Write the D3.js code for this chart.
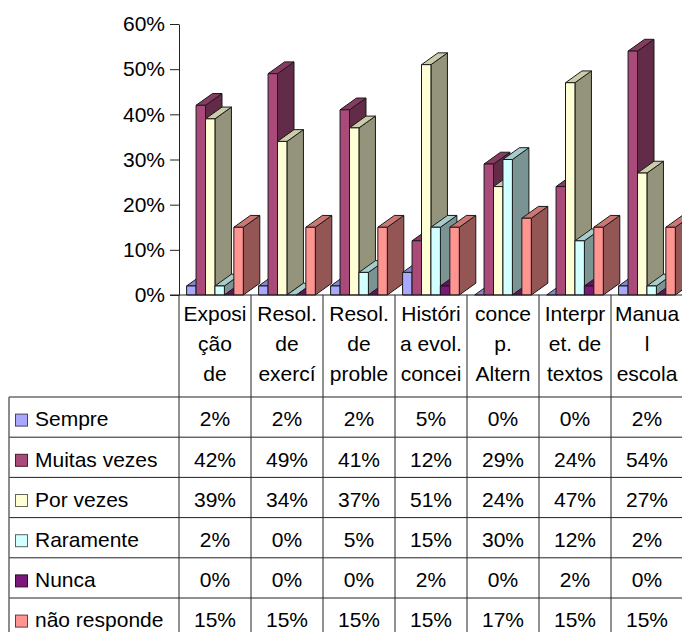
<!DOCTYPE html>
<html>
<head>
<meta charset="utf-8">
<script src="https://cdn.jsdelivr.net/npm/d3@7"></script>
<style>
  html, body { margin: 0; padding: 0; background: #fff; }
  svg { display: block; }
  text { font-family: "Liberation Sans", Arial, sans-serif; fill: #000; }
</style>
</head>
<body>
<svg id="chart" width="682" height="632"></svg>
<script>
// Category labels (as wrapped in the header cells of the data table)
const categoryLines = [
  ["Exposi", "ção", "de"],
  ["Resol.", "de", "exercí"],
  ["Resol.", "de", "proble"],
  ["Históri", "a evol.", "concei"],
  ["conce", "p.", "Altern"],
  ["Interpr", "et. de", "textos"],
  ["Manua", "l", "escola"]
];
const seriesNames = ["Sempre", "Muitas vezes", "Por vezes", "Raramente", "Nunca", "não responde"];

// Percentages per series, one value per category
const sempre      = [2, 2, 2, 5, 0, 0, 2];
const muitasVezes = [42, 49, 41, 12, 29, 24, 54];
const porVezes    = [39, 34, 37, 51, 24, 47, 27];
const raramente   = [2, 0, 5, 15, 30, 12, 2];
const nunca       = [0, 0, 0, 2, 0, 2, 0];
const naoResponde = [15, 15, 15, 15, 17, 15, 15];

const yTicks = [0, 10, 20, 30, 40, 50, 60];

const seriesValues = [sempre, muitasVezes, porVezes, raramente, nunca, naoResponde];
const seriesColors = ["#a8a8ff", "#a94a7b", "#ffffd5", "#d2ffff", "#7b197b", "#ff9590"];

const svg = d3.select("#chart");
const FONT = 21;

// Layout
const plotLeft = 179, plotRight = 683;
const y0 = 295, yTop = 24;
const depthX = 16.5, depthY = -11.8;

const x = d3.scaleBand().domain(d3.range(categoryLines.length)).range([plotLeft, plotRight]);
const xInner = d3.scaleBand().domain(seriesNames).range([7.6, 64.3]);
const y = d3.scaleLinear().domain([0, 60]).range([y0, yTop]);

function shade(c, k) {
  const r = d3.rgb(c);
  return d3.rgb(r.r * k, r.g * k, r.b * k).formatHex();
}

// Y axis
const yAxis = d3.axisLeft(y)
  .tickValues(yTicks)
  .tickSize(9)
  .tickSizeOuter(0)
  .tickPadding(5)
  .tickFormat(d => d + "%");
const gy = svg.append("g").attr("transform", `translate(${plotLeft},0)`).call(yAxis);
gy.select(".domain").attr("stroke", "#222");
gy.selectAll(".tick line").attr("stroke", "#222");
gy.selectAll(".tick text")
  .attr("font-size", FONT)
  .attr("font-family", "Liberation Sans, Arial, sans-serif")
  .attr("fill", "#000");

// 3D bars
const bars = svg.append("g").attr("stroke", "#1a1a1a").attr("stroke-width", 1).attr("stroke-linejoin", "round");
categoryLines.forEach((_, ci) => {
  seriesNames.forEach((name, si) => {
    const v = seriesValues[si][ci];
    const c = seriesColors[si];
    const xl = x(ci) + xInner(name);
    const xr = xl + xInner.bandwidth();
    const yt = y(v);
    const g = bars.append("g");
    // right side face
    g.append("path")
      .attr("d", `M${xr},${y0} L${xr + depthX},${y0 + depthY} L${xr + depthX},${yt + depthY} L${xr},${yt} Z`)
      .attr("fill", shade(c, 0.58));
    // top face
    g.append("path")
      .attr("d", `M${xl},${yt} L${xl + depthX},${yt + depthY} L${xr + depthX},${yt + depthY} L${xr},${yt} Z`)
      .attr("fill", shade(c, 0.8));
    // front face
    if (v > 0) {
      g.append("rect")
        .attr("x", xl).attr("y", yt)
        .attr("width", xr - xl).attr("height", y0 - yt)
        .attr("fill", c);
    }
  });
});

// Category axis line
svg.append("line")
  .attr("x1", plotLeft - 9).attr("x2", plotRight)
  .attr("y1", y0).attr("y2", y0)
  .attr("stroke", "#222");

// Data table
const headerBottom = 397;
const rowH = 40.2;
const tableLeft = 9;
const tableBottom = headerBottom + rowH * seriesNames.length;
const table = svg.append("g");
const lineColor = "#222";

// header labels
categoryLines.forEach((lines, ci) => {
  const cx = x(ci) + x.bandwidth() / 2;
  lines.forEach((t, li) => {
    table.append("text")
      .attr("x", cx).attr("y", 314 + li * 30)
      .attr("dy", "0.35em")
      .attr("text-anchor", "middle")
      .attr("font-size", FONT)
      .text(t);
  });
});

// horizontal rules
d3.range(seriesNames.length + 1).forEach(i => {
  table.append("line")
    .attr("x1", tableLeft).attr("x2", plotRight)
    .attr("y1", headerBottom + i * rowH).attr("y2", headerBottom + i * rowH)
    .attr("stroke", lineColor);
});
// vertical rules
table.append("line")
  .attr("x1", tableLeft).attr("x2", tableLeft)
  .attr("y1", headerBottom).attr("y2", tableBottom)
  .attr("stroke", "#666").attr("stroke-width", 1.5);
d3.range(categoryLines.length + 1).forEach(i => {
  const xx = plotLeft + i * x.bandwidth();
  table.append("line")
    .attr("x1", xx).attr("x2", xx)
    .attr("y1", y0).attr("y2", tableBottom)
    .attr("stroke", lineColor);
});

// rows: legend key, series name and values
seriesNames.forEach((name, si) => {
  const cy = headerBottom + si * rowH + rowH / 2;
  table.append("rect")
    .attr("x", 15.5).attr("y", cy - 3)
    .attr("width", 12).attr("height", 12)
    .attr("fill", seriesColors[si])
    .attr("stroke", shade(seriesColors[si], 0.4));
  table.append("text")
    .attr("x", 35).attr("y", cy + 2)
    .attr("dy", "0.35em")
    .attr("font-size", FONT)
    .text(name);
  seriesValues[si].forEach((v, ci) => {
    table.append("text")
      .attr("x", x(ci) + x.bandwidth() / 2).attr("y", cy + 2)
      .attr("dy", "0.35em")
      .attr("text-anchor", "middle")
      .attr("font-size", FONT)
      .text(v + "%");
  });
});
</script>
</body>
</html>
